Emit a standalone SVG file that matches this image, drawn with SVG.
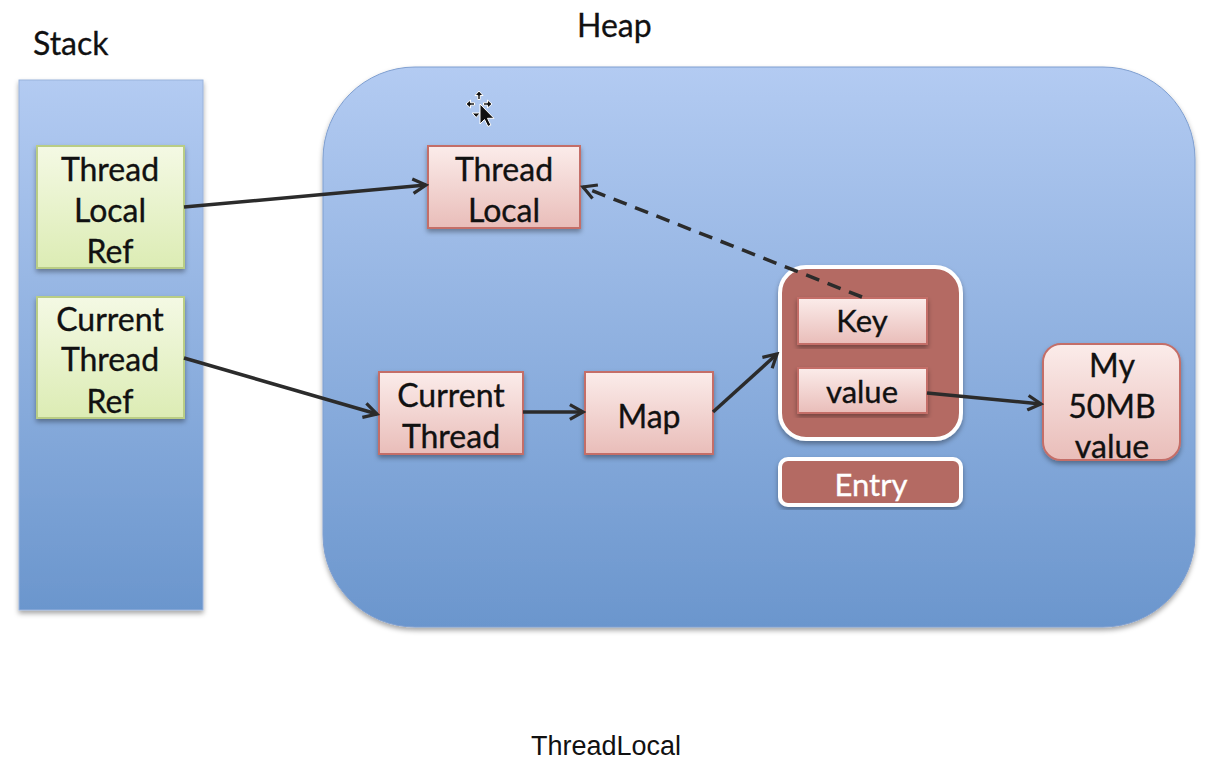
<svg xmlns="http://www.w3.org/2000/svg" width="1214" height="764" viewBox="0 0 1214 764">
  <style>
    .lbl { font-family: Lato, "Open Sans", "Liberation Sans", sans-serif; font-size: 32px; fill: #111; stroke: #111; stroke-width: 0.35; text-anchor: middle; }
    .sm { font-size: 31px; }
    .title { font-family: Lato, "Open Sans", "Liberation Sans", sans-serif; font-size: 32px; fill: #111; stroke: #111; stroke-width: 0.3; }
    .cap { font-family: "Liberation Sans", Arial, sans-serif; font-size: 27px; fill: #111; text-anchor: middle; }
    .green { fill: url(#gGreen); stroke: #b9cd85; stroke-width: 2; }
    .pink { fill: url(#gPink); stroke: #c46e68; stroke-width: 2; }
    .conn { stroke: #2b2b2b; stroke-width: 3.5; fill: none; marker-end: url(#arrow); }
    .dash { stroke-dasharray: 14 9; }
  </style>
  <defs>
    <linearGradient id="gBlue" x1="0" y1="0" x2="0" y2="1">
      <stop offset="0" stop-color="#b3cbf2"/>
      <stop offset="1" stop-color="#6b96cd"/>
    </linearGradient>
    <linearGradient id="gGreen" x1="0" y1="0" x2="0" y2="1">
      <stop offset="0" stop-color="#f4f9e4"/>
      <stop offset="1" stop-color="#dcecb4"/>
    </linearGradient>
    <linearGradient id="gPink" x1="0" y1="0" x2="0" y2="1">
      <stop offset="0" stop-color="#fbecea"/>
      <stop offset="1" stop-color="#e9bdb9"/>
    </linearGradient>
    <filter id="shadow" x="-10%" y="-10%" width="120%" height="120%">
      <feDropShadow dx="0" dy="3" stdDeviation="2.5" flood-color="#000" flood-opacity="0.35"/>
    </filter>
    <marker id="arrow" viewBox="0 0 12 12" refX="10" refY="6" markerWidth="5" markerHeight="5" orient="auto" markerUnits="strokeWidth">
      <path d="M1,1 L10,6 L1,11" fill="none" stroke="#2b2b2b" stroke-width="2.2"/>
    </marker>
  </defs>

  <!-- Section titles -->
  <text class="title" x="33" y="55">Stack</text>
  <text class="title" x="577" y="37">Heap</text>

  <!-- Stack region -->
  <g id="stack">
    <rect x="19" y="80" width="184" height="530" fill="url(#gBlue)" stroke="#9ab3dc" stroke-width="1" filter="url(#shadow)"/>
  </g>

  <!-- Heap region -->
  <g id="heap">
    <rect x="323" y="67" width="872" height="560" rx="92" ry="92" fill="url(#gBlue)" stroke="#7f9fd0" stroke-width="1" filter="url(#shadow)"/>
  </g>

  <!-- Stack entries -->
  <g id="threadLocalRef">
    <rect class="green" x="37" y="146" width="147" height="122" filter="url(#shadow)"/>
    <text class="lbl" x="110" y="181">Thread</text>
    <text class="lbl" x="110" y="222">Local</text>
    <text class="lbl" x="110" y="263">Ref</text>
  </g>
  <g id="currentThreadRef">
    <rect class="green" x="37" y="297" width="147" height="121" filter="url(#shadow)"/>
    <text class="lbl" x="110" y="331">Current</text>
    <text class="lbl" x="110" y="371">Thread</text>
    <text class="lbl" x="110" y="413">Ref</text>
  </g>

  <!-- Heap objects -->
  <g id="threadLocal">
    <rect class="pink" x="428" y="146" width="152" height="82" filter="url(#shadow)"/>
    <text class="lbl" x="504" y="181">Thread</text>
    <text class="lbl" x="504" y="222">Local</text>
  </g>
  <g id="currentThread">
    <rect class="pink" x="379" y="372" width="144" height="82" filter="url(#shadow)"/>
    <text class="lbl" x="451" y="407">Current</text>
    <text class="lbl" x="451" y="448">Thread</text>
  </g>
  <g id="map">
    <rect class="pink" x="585" y="372" width="128" height="82" filter="url(#shadow)"/>
    <text class="lbl" x="649" y="428">Map</text>
  </g>
  <g id="entry">
    <rect x="780" y="267" width="181" height="172" rx="26" ry="26" fill="#b46b63" stroke="#ffffff" stroke-width="4" filter="url(#shadow)"/>
    <g id="key">
      <rect class="pink" x="798" y="298" width="129" height="46" stroke="none" filter="url(#shadow)"/>
      <text class="lbl sm" x="862" y="332">Key</text>
    </g>
    <g id="value">
      <rect class="pink" x="798" y="368" width="129" height="45" stroke="none" filter="url(#shadow)"/>
      <text class="lbl sm" x="862" y="403">value</text>
    </g>
  </g>
  <g id="entryLabel">
    <rect x="780" y="459" width="181" height="46" rx="8" ry="8" fill="#b46b63" stroke="#ffffff" stroke-width="4" filter="url(#shadow)"/>
    <text class="lbl sm" x="871" y="496" style="fill:#ffffff;stroke:#ffffff">Entry</text>
  </g>
  <g id="bigValue">
    <rect class="pink" x="1043" y="344" width="137" height="116" rx="18" ry="18" filter="url(#shadow)"/>
    <text class="lbl" x="1112" y="377">My</text>
    <text class="lbl" x="1112" y="418">50MB</text>
    <text class="lbl" x="1112" y="458">value</text>
  </g>

  <!-- Move cursor -->
  <g id="cursor" transform="translate(479,104)">
    <g fill="#111" stroke="#fff" stroke-width="1">
      <path d="M0,-13 l-4,4.5 h2.8 v4 h2.4 v-4 h2.8 z"/>
      <path d="M-13,0 l4.5,-4 v2.8 h4 v2.4 h-4 v2.8 z"/>
      <path d="M13,0 l-4.5,-4 v2.8 h-4 v2.4 h4 v2.8 z"/>
      <path d="M-4,9 h-2.8 l4,4.5 l4,-4.5 h-2.8 z"/>
      <path d="M1,0 v20 l4.5,-4.5 l3.4,7 l3,-1.4 l-3.4,-6.8 h6.5 z"/>
    </g>
  </g>

  <!-- Connectors -->
  <g id="connectors">
    <line class="conn" x1="184" y1="207" x2="426" y2="185"/>
    <line class="conn" x1="184" y1="358" x2="377" y2="414"/>
    <line class="conn" x1="523" y1="412" x2="583" y2="412"/>
    <line class="conn" x1="713" y1="412" x2="777" y2="354"/>
    <line class="conn" x1="927" y1="393" x2="1041" y2="404"/>
    <line class="conn dash" x1="862" y1="297" x2="583" y2="187"/>
  </g>

  <!-- Caption -->
  <text class="cap" x="606" y="755">ThreadLocal</text>
</svg>
